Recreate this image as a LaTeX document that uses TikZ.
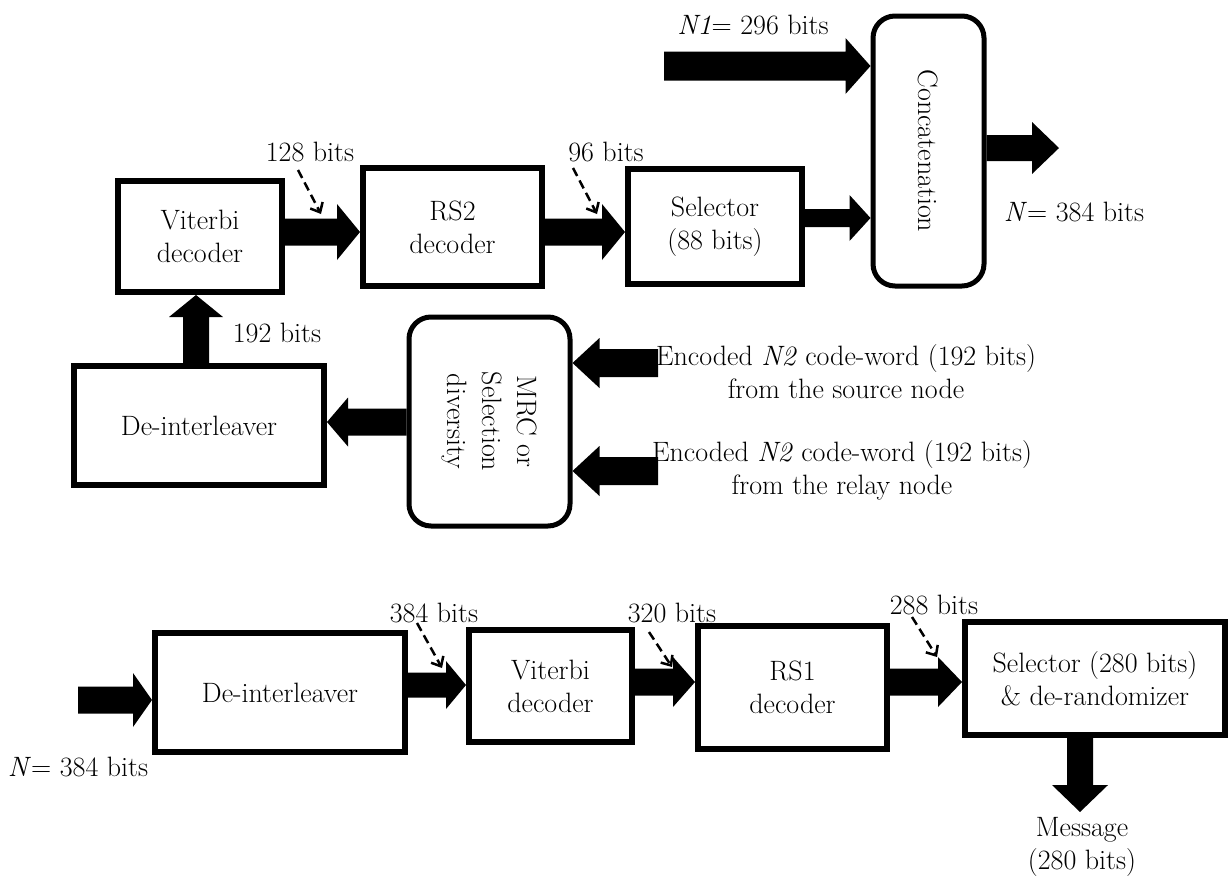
\documentclass[tikz,border=0pt]{standalone}
\usetikzlibrary{calc,arrows.meta}
\tikzset{
  every node/.style={font=\fontsize{28}{33}\selectfont},
  box/.style={draw, line width=6pt, align=center, inner sep=0pt},
  rbox/.style={draw, line width=5pt, rounded corners=22pt, inner sep=0pt},
  lbl/.style={align=center, inner sep=0pt},
  dasharrow/.style={line width=2.5pt, dash pattern=on 9pt off 5pt, -{Straight Barb[length=8pt,width=14pt]}},
}
\newcommand\barrow[5]{%
  \coordinate (bas) at (#1);
  \coordinate (bae) at (#2);
  \coordinate (bah) at ($(bae)!#5pt!(bas)$);
  \fill ($(bas)!#3pt!90:(bae)$) -- ($(bah)!#3pt!-90:(bas)$) -- ($(bah)!#4pt!-90:(bas)$) -- (bae) -- ($(bah)!#4pt!90:(bas)$) -- ($(bah)!#3pt!90:(bas)$) -- ($(bas)!#3pt!-90:(bae)$) -- cycle;}
\begin{document}
\begin{tikzpicture}[x=1pt,y=-1pt]
\useasboundingbox (0,0) rectangle (1231,876);
% boxes
\node[box, minimum width=164pt, minimum height=111pt] (vit1) at (200,236.5) {Viterbi\\decoder};
\node[box, minimum width=179pt, minimum height=118pt] (rs2) at (452.5,227) {RS2\\decoder};
\node[box, minimum width=174pt, minimum height=115pt] (sel1) at (715,226.5) {Selector\\(88 bits)};
\node[rbox, minimum width=111pt, minimum height=270pt,
  label={[rotate=-90]center:Concatenation}] (concat) at (928.5,151) {};
\node[box, minimum width=250pt, minimum height=119pt] (deint1) at (199,425.5) {De-interleaver};
\node[rbox, minimum width=161pt, minimum height=209pt,
  label={[rotate=-90,align=center,font=\fontsize{28}{35}\selectfont]center:MRC or\\Selection\\diversity}] (mrc) at (489.5,421.5) {};
\node[box, minimum width=250pt, minimum height=119pt] (deint2) at (280,692.5) {De-interleaver};
\node[box, minimum width=163pt, minimum height=112pt] (vit2) at (550.5,686) {Viterbi\\decoder};
\node[box, minimum width=189pt, minimum height=123pt] (rs1) at (792.5,687.5) {RS1\\decoder};
\node[box, minimum width=260pt, minimum height=113pt] (sel2) at (1095,678.5) {Selector (280 bits)\\\& de-randomizer};
% labels
\node[lbl] (l128) at (310,152) {128 bits};
\node[lbl] (l96) at (606,152) {96 bits};
\node[lbl] (ln1) at (753,25) {\textit{N1}= 296 bits};
\node[lbl] (lnout) at (1074,212) {\textit{N}= 384 bits};
\node[lbl] (l192) at (277,333) {192 bits};
\node[lbl] (enc1) at (846,372) {Encoded \textit{N2} code-word (192 bits)\\from the source node};
\node[lbl] (enc2) at (842,470) {Encoded \textit{N2} code-word (192 bits)\\from the relay node};
\node[lbl] (lnin) at (78,767) {\textit{N}= 384 bits};
\node[lbl] (l384) at (434,613) {384 bits};
\node[lbl] (l320) at (672,613) {320 bits};
\node[lbl] (l288) at (934,605) {288 bits};
\node[lbl] (msg) at (1082,847) {Message\\(280 bits)};
% helper coordinates
\coordinate (y66) at (0,66);
\coordinate (y232) at (0,232);
\coordinate (y218) at (0,218);
\coordinate (y148) at (0,148);
\coordinate (x196) at (196,0);
\coordinate (y422) at (0,422);
\coordinate (y363) at (0,363);
\coordinate (y471) at (0,471);
\coordinate (y700) at (0,700);
\coordinate (y685) at (0,685);
\coordinate (y682) at (0,682);
\coordinate (x1080) at (1080,0);
\coordinate (n1s) at (664,66);
\coordinate (nout) at (1059,148);
\coordinate (srcs) at (658,363);
\coordinate (rels) at (658,471);
\coordinate (nin) at (78,700);
\coordinate (msgtip) at (1080,812);
% block arrows
\barrow{n1s}{concat.west |- y66}{14.5}{28}{25}
\barrow{vit1.east |- y232}{rs2.west |- y232}{13.5}{28}{23}
\barrow{rs2.east |- y232}{sel1.west |- y232}{13.5}{28}{23}
\barrow{sel1.east |- y218}{concat.west |- y218}{9}{23}{21}
\barrow{concat.east |- y148}{nout}{13}{26}{27}
\barrow{deint1.north -| x196}{vit1.south -| x196}{13}{27}{22}
\barrow{mrc.west |- y422}{deint1.east |- y422}{13.5}{24.5}{21}
\barrow{srcs}{mrc.east |- y363}{14}{25}{27}
\barrow{rels}{mrc.east |- y471}{14}{25}{27}
\barrow{nin}{deint2.west |- y700}{13.5}{27}{19}
\barrow{deint2.east |- y685}{vit2.west |- y685}{12.5}{24}{20}
\barrow{vit2.east |- y682}{rs1.west |- y682}{13.5}{25}{22}
\barrow{rs1.east |- y682}{sel2.west |- y682}{13.5}{25}{24}
\barrow{sel2.south -| x1080}{msgtip}{13}{28}{27}
% dashed pointer arrows
\coordinate (d1a) at (298,170); \coordinate (d1b) at (321,214);
\coordinate (d2a) at (573,168); \coordinate (d2b) at (597,214);
\coordinate (d3a) at (417,623); \coordinate (d3b) at (442,668);
\coordinate (d4a) at (649,632); \coordinate (d4b) at (672,667);
\coordinate (d5a) at (912,617); \coordinate (d5b) at (937,657);
\draw[dasharrow] (d1a) -- (d1b);
\draw[dasharrow] (d2a) -- (d2b);
\draw[dasharrow] (d3a) -- (d3b);
\draw[dasharrow] (d4a) -- (d4b);
\draw[dasharrow] (d5a) -- (d5b);
\end{tikzpicture}
\end{document}
